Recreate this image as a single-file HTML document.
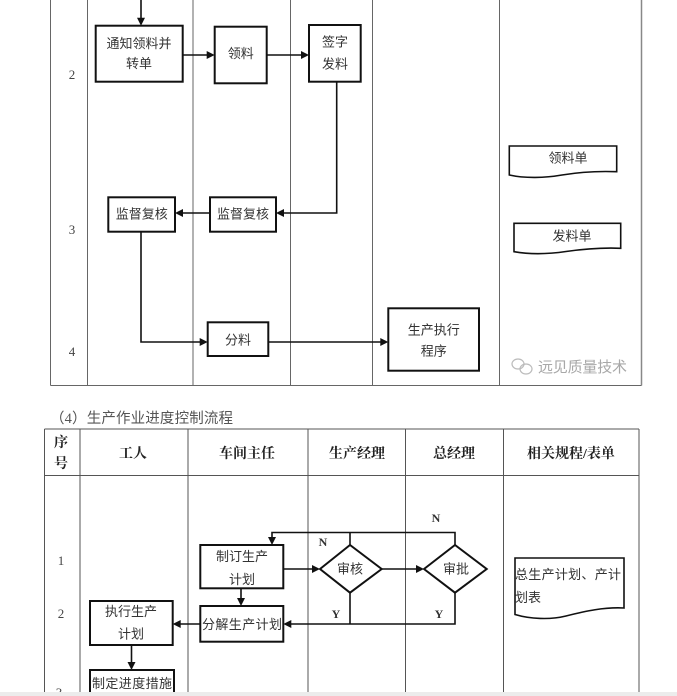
<!DOCTYPE html>
<html><head><meta charset="utf-8"><style>
html,body{margin:0;padding:0;background:#fff;}
svg{display:block;}
.t{font-family:"Liberation Sans","Noto Sans CJK SC",sans-serif;font-size:13px;fill:#333;text-anchor:middle;}
.h{font-family:"Liberation Serif","Noto Serif CJK SC",serif;font-size:14px;font-weight:bold;fill:#222;text-anchor:middle;}
.n{font-family:"Liberation Serif","Noto Serif CJK SC",serif;font-size:13px;fill:#444;text-anchor:middle;}
.yn{font-family:"Liberation Serif",serif;font-size:12px;font-weight:bold;fill:#333;text-anchor:middle;}
</style></head><body>
<svg width="677" height="696" viewBox="0 0 677 696" xmlns="http://www.w3.org/2000/svg">
<rect width="677" height="696" fill="#fff"/>
<!-- top table -->
<g stroke="#666" stroke-width="1" fill="none">
<line x1="50.5" y1="0" x2="50.5" y2="385.5"/>
<line x1="87.5" y1="0" x2="87.5" y2="385.5"/>
<line x1="193" y1="0" x2="193" y2="385.5"/>
<line x1="290.5" y1="0" x2="290.5" y2="385.5"/>
<line x1="372.5" y1="0" x2="372.5" y2="385.5"/>
<line x1="499.5" y1="0" x2="499.5" y2="385.5"/>
<line x1="641.5" y1="0" x2="641.5" y2="385.5" stroke="#888" stroke-width="1.5"/>
<line x1="50.5" y1="385.5" x2="641.5" y2="385.5"/>
</g>
<text class="n" x="72" y="79">2</text>
<text class="n" x="72" y="234">3</text>
<text class="n" x="72" y="356">4</text>
<!-- top boxes -->
<g stroke="#111" stroke-width="2" fill="#fff">
<rect x="95.7" y="25.7" width="87" height="56"/>
<rect x="214.7" y="26.7" width="52" height="56.6"/>
<rect x="309" y="25" width="51.7" height="56.7"/>
<rect x="108.3" y="197.3" width="66.7" height="34.4"/>
<rect x="210" y="197.3" width="66" height="34.4"/>
<rect x="207.7" y="322.3" width="60.6" height="33.7"/>
<rect x="388.3" y="308.3" width="90.7" height="62.4"/>
</g>
<text class="t" x="139" y="48">通知领料并</text>
<text class="t" x="139" y="68">转单</text>
<text class="t" x="240.7" y="58">领料</text>
<text class="t" x="335" y="46.5">签字</text>
<text class="t" x="335" y="68.5">发料</text>
<text class="t" x="141.7" y="218.5">监督复核</text>
<text class="t" x="243" y="218.5">监督复核</text>
<text class="t" x="238" y="344.5">分料</text>
<text class="t" x="433.7" y="334.5">生产执行</text>
<text class="t" x="433.7" y="355.5">程序</text>
<!-- docs -->
<g stroke="#111" stroke-width="1.6" fill="#fff">
<path d="M509.3,146 H616.7 V171.7 C598,171 580,172 562,175 C545,178 525,178.5 509.3,175 Z"/>
<path d="M514,223.3 H620.7 V248.3 C602,247.5 584,249 566,251.5 C549,254 530,254.5 514,251.7 Z"/>
</g>
<text class="t" x="568" y="162.5">领料单</text>
<text class="t" x="572" y="240.5">发料单</text>
<!-- top connectors -->
<g stroke="#111" stroke-width="1.6" fill="none">
<line x1="141" y1="0" x2="141" y2="19"/>
<line x1="182.7" y1="55" x2="208" y2="55"/>
<line x1="266.7" y1="55" x2="302" y2="55"/>
<polyline points="336.7,81.7 336.7,213 283,213"/>
<line x1="210" y1="213" x2="182" y2="213"/>
<polyline points="141,231.7 141,342 201,342"/>
<line x1="268.3" y1="342" x2="381" y2="342"/>
</g>
<g fill="#111">
<polygon points="141,25.7 137,17.7 145,17.7"/>
<polygon points="214.7,55 206.7,51 206.7,59"/>
<polygon points="309,55 301,51 301,59"/>
<polygon points="276,213 284,209 284,217"/>
<polygon points="175,213 183,209 183,217"/>
<polygon points="207.7,342 199.7,338 199.7,346"/>
<polygon points="388.3,342 380.3,338 380.3,346"/>
</g>
<!-- watermark -->
<g fill="none" stroke="#bbb" stroke-width="1.2">
<ellipse cx="518" cy="364" rx="6" ry="5"/>
<ellipse cx="526" cy="369" rx="6" ry="5"/>
</g>
<text x="538" y="372" style="font-family:'Liberation Sans','Noto Sans CJK SC',sans-serif;font-size:15px;fill:#a8a8a8;" textLength="89">远见质量技术</text>

<!-- heading -->
<text x="50" y="423" style="font-family:'Liberation Serif','Noto Sans CJK SC',sans-serif;font-size:14.5px;fill:#555;" textLength="183">（4）生产作业进度控制流程</text>

<!-- bottom table -->
<g stroke="#555" stroke-width="1" fill="none">
<line x1="44.5" y1="429" x2="639" y2="429"/>
<line x1="44.5" y1="475.5" x2="639" y2="475.5"/>
<line x1="44.5" y1="429" x2="44.5" y2="696"/>
<line x1="80" y1="429" x2="80" y2="696"/>
<line x1="188" y1="429" x2="188" y2="696"/>
<line x1="308" y1="429" x2="308" y2="696"/>
<line x1="405.5" y1="429" x2="405.5" y2="696"/>
<line x1="503.5" y1="429" x2="503.5" y2="696"/>
<line x1="639" y1="429" x2="639" y2="696"/>
</g>
<text class="h" x="61" y="447">序</text>
<text class="h" x="61" y="468">号</text>
<text class="h" x="133" y="458">工人</text>
<text class="h" x="247" y="458">车间主任</text>
<text class="h" x="357" y="458">生产经理</text>
<text class="h" x="454" y="458">总经理</text>
<text class="h" x="571" y="458">相关规程/表单</text>
<text class="n" x="61" y="565">1</text>
<text class="n" x="61" y="618">2</text>
<text class="n" x="59" y="697">3</text>
<!-- bottom boxes -->
<g stroke="#111" stroke-width="2" fill="#fff">
<rect x="200.3" y="545" width="83" height="43.3"/>
<rect x="200.3" y="606" width="83" height="35.7"/>
<rect x="90" y="601" width="82.7" height="44"/>
<rect x="90" y="670" width="84" height="40"/>
<polygon points="320,569 350,545 381.7,569 350,592.7"/>
<polygon points="424,569 455,545 486.7,569 455,592.7"/>
</g>
<text class="t" x="242" y="561">制订生产</text>
<text class="t" x="242" y="584">计划</text>
<text class="t" x="242" y="629" textLength="80">分解生产计划</text>
<text class="t" x="131" y="616">执行生产</text>
<text class="t" x="131" y="638.5">计划</text>
<text class="t" x="132" y="688" textLength="80">制定进度措施</text>
<text class="t" x="350" y="573.5">审核</text>
<text class="t" x="456" y="573.5">审批</text>
<!-- doc -->
<path d="M515,558 H624 V608 C604,607 586,611 566,616 C550,620 530,619 515,614.5 Z" stroke="#111" stroke-width="1.6" fill="#fff"/>
<text x="515" y="579" style="font-family:'Liberation Sans','Noto Sans CJK SC',sans-serif;font-size:13px;fill:#333;" textLength="106">总生产计划、产计</text>
<text x="515" y="602" style="font-family:'Liberation Sans','Noto Sans CJK SC',sans-serif;font-size:13px;fill:#333;">划表</text>
<!-- bottom connectors -->
<g stroke="#111" stroke-width="1.6" fill="none">
<line x1="283.3" y1="569" x2="313" y2="569"/>
<line x1="381.7" y1="569" x2="417" y2="569"/>
<line x1="350" y1="545" x2="350" y2="532.5"/>
<polyline points="455,545 455,532.5 272,532.5 272,538"/>
<line x1="350" y1="592.7" x2="350" y2="624"/>
<polyline points="455,592.7 455,624 290,624"/>
<line x1="241" y1="588.3" x2="241" y2="599"/>
<line x1="200.3" y1="624" x2="180" y2="624"/>
<line x1="131.5" y1="645" x2="131.5" y2="663"/>
</g>
<g fill="#111">
<polygon points="320,569 312,565 312,573"/>
<polygon points="424,569 416,565 416,573"/>
<polygon points="272,545 268,537 276,537"/>
<polygon points="283.3,624 291.3,620 291.3,628"/>
<polygon points="241,606 237,598 245,598"/>
<polygon points="172.7,624 180.7,620 180.7,628"/>
<polygon points="131.5,670 127.5,662 135.5,662"/>
</g>
<text class="yn" x="323" y="546">N</text>
<text class="yn" x="436" y="522">N</text>
<text class="yn" x="336" y="618">Y</text>
<text class="yn" x="439" y="618">Y</text>
<!-- bottom fade strip -->
<rect x="0" y="692" width="677" height="4" fill="#ececec"/>
</svg>
</body></html>
